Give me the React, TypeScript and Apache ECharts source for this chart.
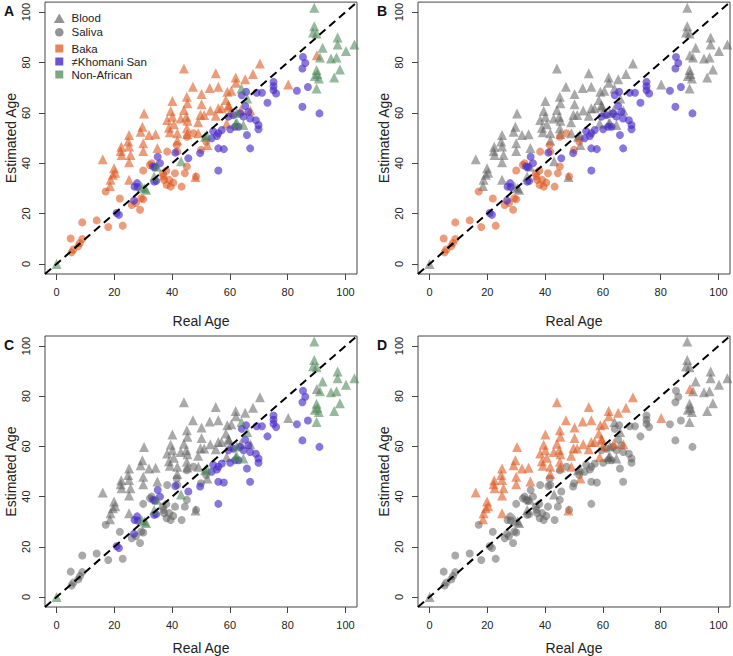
import React, { useEffect, useRef } from "react";
import * as echarts from "echarts";

// [real age, estimated age]
const bakaBlood: number[][] = [
  [16.0, 41.6], [18.5, 31.0], [18.7, 33.4], [19.5, 35.4], [19.9, 38.0], [20.3, 36.2],
  [22.2, 44.9], [22.5, 43.3], [22.4, 46.5], [24.8, 48.6], [25.1, 51.2], [25.1, 46.6],
  [25.6, 43.3], [25.1, 40.4], [25.1, 33.4], [29.1, 52.5], [29.7, 54.5], [30.3, 59.8],
  [30.0, 47.9], [30.0, 44.9], [32.0, 51.2], [34.3, 51.5], [34.9, 46.0], [38.3, 57.2],
  [38.9, 54.1], [39.2, 52.3], [39.5, 60.7], [40.1, 64.7], [40.1, 58.5], [40.6, 55.5],
  [41.8, 51.9], [41.8, 49.0], [43.0, 57.8], [44.1, 77.6], [44.1, 61.1], [44.9, 58.5],
  [45.1, 66.4], [45.1, 53.9], [45.3, 63.8], [45.3, 56.9], [45.3, 51.6], [47.2, 70.4],
  [48.1, 34.5], [49.0, 56.3], [49.1, 51.9], [49.8, 59.3], [50.2, 67.5], [50.2, 63.4],
  [51.1, 59.2], [52.2, 47.2], [53.0, 69.9], [53.2, 60.9], [55.1, 75.7], [55.1, 58.9],
  [56.0, 70.4], [56.0, 61.8], [57.1, 61.8], [58.6, 65.1], [58.9, 55.8], [59.1, 68.4],
  [59.5, 63.1], [59.7, 62.4], [60.2, 60.2], [60.5, 68.8], [62.0, 74.1], [62.1, 72.0],
  [63.8, 61.1], [65.3, 73.4], [67.1, 60.9], [68.0, 75.4], [70.4, 79.6], [80.2, 71.3],
  [90.1, 82.9]
];

const bakaSaliva: number[][] = [
  [4.9, 10.1], [5.2, 4.6], [5.8, 5.7], [7.5, 7.0], [8.1, 8.3], [8.9, 9.9], [8.9, 16.5],
  [13.9, 17.3], [17.9, 14.7], [17.0, 28.8], [21.9, 26.0], [22.9, 15.2], [26.0, 23.4],
  [27.5, 24.2], [28.9, 21.5], [29.3, 26.1], [30.0, 25.7], [30.0, 37.1], [32.3, 39.3],
  [32.9, 40.0], [36.8, 36.0], [37.0, 34.7], [37.2, 33.4], [38.0, 37.0], [38.1, 31.4],
  [38.3, 44.6], [39.0, 33.4], [39.5, 30.7], [40.4, 32.3], [41.0, 36.0], [41.6, 47.2],
  [41.8, 44.6], [43.3, 30.7], [44.4, 36.0], [45.1, 38.7], [45.1, 50.5], [47.4, 51.9],
  [48.3, 34.7], [50.0, 45.3], [51.8, 48.6]
];

const khomaniSaliva: number[][] = [
  [20.8, 20.2], [21.6, 19.5], [26.8, 25.2], [27.0, 30.7], [27.9, 32.1], [28.1, 30.5],
  [33.4, 38.7], [33.8, 32.7], [34.1, 38.4], [34.5, 33.0], [35.0, 42.6], [35.8, 40.0],
  [41.1, 44.2], [45.6, 42.0], [49.7, 44.0], [53.7, 49.9], [54.2, 52.7], [55.5, 50.8],
  [56.0, 51.9], [56.0, 45.9], [56.0, 37.1], [57.2, 53.2], [57.9, 45.6], [59.5, 58.5],
  [60.1, 53.5], [61.2, 59.1], [61.8, 54.5], [63.0, 54.5], [63.5, 59.8], [64.1, 67.0],
  [64.7, 58.5], [65.3, 62.7], [65.6, 68.4], [65.9, 51.2], [66.4, 60.4], [67.0, 57.8],
  [67.0, 45.9], [69.0, 57.1], [69.3, 68.0], [69.9, 55.2], [69.9, 53.5], [71.1, 68.0],
  [73.0, 64.0], [75.1, 72.3], [75.1, 70.6], [75.1, 69.0], [76.0, 67.7], [83.2, 68.8],
  [85.1, 77.6], [85.1, 62.4], [86.1, 79.8], [85.3, 82.2], [87.0, 70.3], [91.0, 59.8]
];

const nonAfricanBlood: number[][] = [
  [0.0, 0.0], [29.5, 30.7], [30.5, 30.1], [31.0, 29.5], [33.8, 34.7], [34.7, 38.7],
  [43.1, 40.8], [51.4, 50.5], [52.0, 51.2], [62.0, 55.8], [62.4, 56.1], [62.4, 60.0],
  [64.7, 55.2], [64.0, 69.7], [66.0, 65.7], [88.8, 91.9], [89.2, 101.8], [89.2, 94.4],
  [89.4, 74.6], [90.0, 91.5], [90.0, 77.0], [90.0, 69.7], [90.3, 75.4], [90.8, 73.7],
  [91.2, 82.0], [92.1, 85.9], [95.0, 81.6], [96.1, 74.1], [96.9, 82.0], [97.3, 89.9],
  [97.3, 87.2], [98.1, 77.2], [100.2, 84.6], [103.1, 87.2]
];

const xTicks = [0, 20, 40, 60, 80, 100];
const yTicks = [0, 20, 40, 60, 80, 100];
const panelLetters = ["A", "B", "C", "D"];
const tissueNames = ["Blood", "Saliva"];
const groupNames = ["Baka", "\u2260Khomani San", "Non-African"];

const FONT = '"Liberation Sans", Arial, Helvetica, sans-serif';
const ORANGE = "rgba(220,80,20,0.7)";
const PURPLE = "rgba(70,40,200,0.8)";
const GREEN = "rgba(70,130,80,0.7)";
const GRAY = "rgba(90,90,90,0.65)";

const groups = [
  { key: "bb", data: bakaBlood, symbol: "triangle", color: ORANGE },
  { key: "bs", data: bakaSaliva, symbol: "circle", color: ORANGE },
  { key: "ks", data: khomaniSaliva, symbol: "circle", color: PURPLE },
  { key: "nb", data: nonAfricanBlood, symbol: "triangle", color: GREEN }
];

// which groups are highlighted in each panel
const highlights: string[][] = [
  ["bb", "bs", "ks", "nb"],
  ["bs", "ks"],
  ["ks", "nb"],
  ["bb"]
];

const gridPos = [
  { left: 45, top: 2 },
  { left: 418, top: 2 },
  { left: 45, top: 336 },
  { left: 418, top: 336 }
];

export default function App() {
  const ref = useRef<HTMLDivElement>(null);
  useEffect(() => {
    if (!ref.current) return;
    const chart = echarts.init(ref.current, null, { renderer: "svg" });
    const grids: any[] = [];
    const xAxes: any[] = [];
    const yAxes: any[] = [];
    const series: any[] = [];
    gridPos.forEach((g, i) => {
      grids.push({
        left: g.left, top: g.top, width: 312, height: 272,
        show: true, borderColor: "#444", borderWidth: 1, backgroundColor: "transparent"
      });
      xAxes.push({
        gridIndex: i, type: "value", min: -4, max: 104,
        name: "Real Age", nameLocation: "middle", nameGap: i < 2 ? 40 : 34,
        nameTextStyle: { fontSize: 14, color: "#222", fontFamily: FONT },
        axisLine: { show: false, onZero: false },
        axisTick: { show: true, length: 6, lineStyle: { color: "#444" }, customValues: xTicks },
        axisLabel: { customValues: xTicks, fontSize: 11, color: "#222", fontFamily: FONT, margin: 12 },
        splitLine: { show: false }
      });
      yAxes.push({
        gridIndex: i, type: "value", min: -4, max: 104,
        name: "Estimated Age", nameLocation: "middle", nameGap: 27,
        nameTextStyle: { fontSize: 14, color: "#222", fontFamily: FONT },
        axisLine: { show: false, onZero: false },
        axisTick: { show: true, length: 6, lineStyle: { color: "#444" }, customValues: yTicks },
        axisLabel: { customValues: yTicks, fontSize: 11, color: "#222", fontFamily: FONT, margin: 14, rotate: 90 },
        splitLine: { show: false }
      });
      const hl = highlights[i];
      const ordered = [
        ...groups.filter((gr) => !hl.includes(gr.key)),
        ...groups.filter((gr) => hl.includes(gr.key))
      ];
      ordered.forEach((gr) => {
        const on = hl.includes(gr.key);
        series.push({
          type: "scatter", xAxisIndex: i, yAxisIndex: i,
          data: gr.data, symbol: gr.symbol,
          symbolSize: gr.symbol === "triangle" ? 10 : 8,
          itemStyle: { color: on ? gr.color : GRAY },
          z: on ? 3 : 2, silent: true
        });
      });
      series.push({
        type: "line", xAxisIndex: i, yAxisIndex: i,
        data: [[-4, -4], [104, 104]], symbol: "none", silent: true, z: 5,
        lineStyle: { color: "#000", width: 2, type: [8, 5] }
      });
    });

    const graphic: any[] = [];
    panelLetters.forEach((L, i) => {
      graphic.push({
        type: "text", x: gridPos[i].left - 41, y: gridPos[i].top + 9,
        style: { text: L, font: `bold 14px ${FONT}`, fill: "#111", verticalAlign: "middle" }
      });
    });
    // legend in panel A
    const lx = 59.3;
    graphic.push({ type: "polygon", shape: { points: [[lx - 5.5, 23], [lx + 5.5, 23], [lx, 13.5]] }, style: { fill: GRAY } });
    graphic.push({ type: "circle", shape: { cx: lx, cy: 32.3, r: 4.3 }, style: { fill: GRAY } });
    const sqColors = [ORANGE, PURPLE, GREEN];
    const sqY = [48.5, 61.5, 74.5];
    const legendFont = `11.5px ${FONT}`;
    groupNames.forEach((n, k) => {
      graphic.push({ type: "rect", shape: { x: lx - 4, y: sqY[k] - 4, width: 8, height: 8 }, style: { fill: sqColors[k] } });
      graphic.push({ type: "text", x: 71.5, y: sqY[k], style: { text: n, font: legendFont, fill: "#222", verticalAlign: "middle" } });
    });
    tissueNames.forEach((n, k) => {
      graphic.push({ type: "text", x: 71.5, y: k === 0 ? 18.3 : 32.3, style: { text: n, font: legendFont, fill: "#222", verticalAlign: "middle" } });
    });

    chart.setOption({
      animation: false,
      grid: grids,
      xAxis: xAxes,
      yAxis: yAxes,
      series,
      graphic
    });
    return () => chart.dispose();
  }, []);
  return (
    <div
      ref={ref}
      style={{ position: "fixed", left: 0, top: 0, width: 733, height: 656, background: "#fff" }}
    />
  );
}
